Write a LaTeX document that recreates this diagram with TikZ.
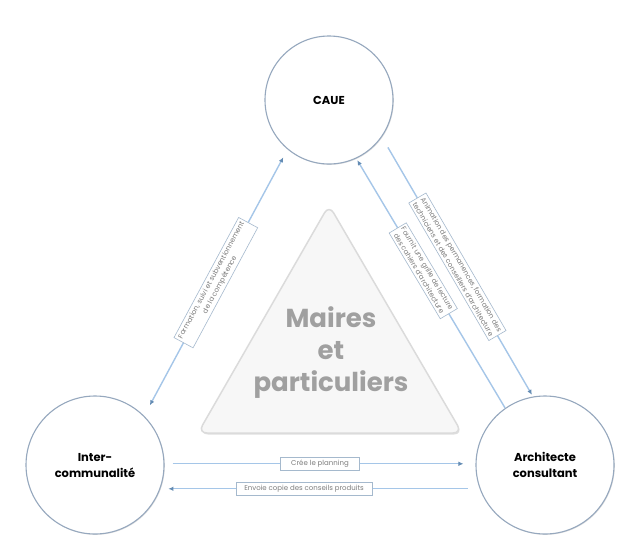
\documentclass[tikz,border=0pt]{standalone}
\usepackage{fontspec}
\setmainfont{Poppins}
\usetikzlibrary{arrows.meta,shadows}
\definecolor{linkblue}{RGB}{165,198,232}
\definecolor{tipblue}{RGB}{100,140,180}
\definecolor{ringgray}{RGB}{150,168,190}
\definecolor{boxgray}{RGB}{165,185,205}
\definecolor{smalltxt}{RGB}{125,125,125}
\definecolor{bigtxt}{RGB}{160,160,160}

\begin{document}
\begin{tikzpicture}[x=1pt,y=-1pt,
  blob/.tip={Latex[length=5pt,width=4.5pt,color=tipblue]},
  actor/.style={circle, draw=ringgray, line width=1.1pt, fill=white,
    minimum size=138pt, inner sep=0pt, align=center,
    font=\bfseries\fontsize{11.5}{16}\selectfont,
    drop shadow={opacity=0.25,shadow xshift=0.8pt,shadow yshift=-0.8pt}},
  flow/.style={draw=linkblue, line width=1.4pt},
  note/.style={draw=boxgray, line width=0.6pt, fill=white, align=center,
    inner sep=2.5pt, font=\fontsize{7}{9.5}\selectfont, text=smalltxt}]
  \fill[white] (0,0) rectangle (640,558);
  \useasboundingbox (0,0) rectangle (640,558);

  % the three partners
  \node[actor, minimum size=128pt] (caue) at (329,100) {CAUE};
  \node[actor] (inter) at (95,465) {Inter-\\communalité};
  \node[actor] (arch) at (545,465) {Architecte\\consultant};

  % triangle in the middle
  \draw[draw=black!14, line width=1.5pt, fill=black!3, rounded corners=9pt,
    drop shadow={opacity=0.25,shadow xshift=1pt,shadow yshift=-1.5pt}]
    (329,205) -- (462,433) -- (198,433) -- cycle;
  \node[text=bigtxt, align=center, font=\bfseries\fontsize{26}{32}\selectfont] (maires)
    at (331,353) {Maires\\et\\particuliers};

  % links
  \draw[flow, blob-blob, shorten <=12pt, shorten >=9pt] (inter.45) --
    node[note, sloped] {Formation, suivi et subventionnement\\de la compétence} (caue.230);
  \draw[flow, -blob, shorten <=12pt, shorten >=2pt] (caue.-35) --
    node[note, sloped, pos=0.5] {Animation des permanences, formation des\\techniciens et des conseillers d'architecture} (arch.100);
  \draw[flow, -blob, shorten >=2pt] (arch.125) --
    node[note, sloped, pos=0.55] {Fournit une grille de lecture\\des cahiers d'architecture} (caue.-65);
  \draw[flow, -blob, shorten <=8pt, shorten >=12pt] (inter.1) --
    node[note, inner xsep=11pt] {Crée le planning} (arch.179);
  \draw[flow, -blob, shorten <=12pt, shorten >=8pt] (arch.200) --
    node[note, inner xsep=8pt, pos=0.55] {Envoie copie des conseils produits} (inter.-20);
\end{tikzpicture}
\end{document}
